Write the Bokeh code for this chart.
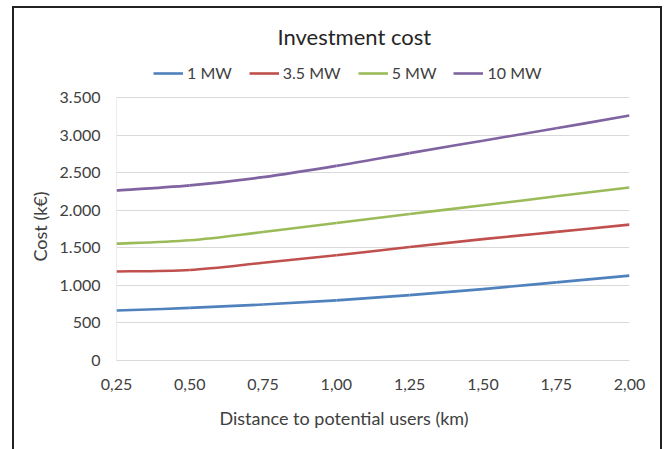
from bokeh.plotting import figure
from bokeh.models import Range1d, FixedTicker, Legend, LegendItem, Title
from bokeh.embed import file_html
from bokeh.resources import INLINE

# Investment cost (k€) by distance to potential users (km)
distance = [0.25, 0.50, 0.75, 1.00, 1.25, 1.50, 1.75, 2.00]
cost_1mw = [665, 700, 745, 800, 870, 950, 1040, 1130]
cost_3_5mw = [1185, 1205, 1300, 1400, 1510, 1615, 1712, 1808]
cost_5mw = [1555, 1600, 1710, 1830, 1950, 2065, 2185, 2303]
cost_10mw = [2262, 2330, 2440, 2590, 2760, 2925, 3090, 3260]

series_names = ["1 MW", "3.5 MW", "5 MW", "10 MW"]
series_values = [cost_1mw, cost_3_5mw, cost_5mw, cost_10mw]
series_colors = ["#4F81BD", "#C0504D", "#9BBB59", "#8064A2"]

x_ticks = distance
x_tick_labels = ["0,25", "0,50", "0,75", "1,00", "1,25", "1,50", "1,75", "2,00"]
y_ticks = [0, 500, 1000, 1500, 2000, 2500, 3000, 3500]
y_tick_labels = ["0", "500", "1.000", "1.500", "2.000", "2.500", "3.000", "3.500"]

FONT = "Lato"
TEXT = "#404040"
GRID = "#D9D9D9"

# The plotting area is 263 px tall for 0..3500; the frame reaches 40 px
# higher so the legend row can sit inside it, above the top gridline.
PLOT_H = 263
FRAME_H = 303
y_min, y_max = y_ticks[0], y_ticks[-1]
y_top = y_min + (y_max - y_min) * FRAME_H / PLOT_H

p = figure(
    frame_width=513, frame_height=FRAME_H,
    x_range=Range1d(distance[0], distance[-1]), y_range=Range1d(y_min, y_top),
    toolbar_location=None, output_backend="svg",
    min_border_left=102, min_border_right=31,
    min_border_top=49, min_border_bottom=89,
    title="Investment cost",
)
p.margin = (6, 0, 0, 12)
p.styles = {
    "border-left": "2px solid #222",
    "border-top": "2px solid #222",
    "border-right": "2px solid #222",
}
p.outline_line_color = None
p.background_fill_color = "white"
p.border_fill_color = "white"

p.title.text_font = FONT
p.title.text_font_size = "22px"
p.title.text_font_style = "normal"
p.title.text_color = "#262626"
p.title.align = "left"
p.title.offset = 161
p.title.standoff = 16


def smooth_segments(xs, ys):
    """Cubic Bezier segments through the points (Catmull-Rom tangents)."""
    n = len(xs)
    out = {k: [] for k in ("x0", "y0", "x1", "y1", "cx0", "cy0", "cx1", "cy1")}
    for i in range(n - 1):
        im1 = max(i - 1, 0)
        ip2 = min(i + 2, n - 1)
        out["x0"].append(xs[i]); out["y0"].append(ys[i])
        out["x1"].append(xs[i + 1]); out["y1"].append(ys[i + 1])
        out["cx0"].append(xs[i] + (xs[i + 1] - xs[im1]) / 6)
        out["cy0"].append(ys[i] + (ys[i + 1] - ys[im1]) / 6)
        out["cx1"].append(xs[i + 1] - (xs[ip2] - xs[i]) / 6)
        out["cy1"].append(ys[i + 1] - (ys[ip2] - ys[i]) / 6)
    return out


# value-axis line, only over the 0..3500 span
p.segment(x0=[distance[0]], y0=[y_min], x1=[distance[0]], y1=[y_max],
          line_color=GRID, line_width=1)

items = []
for name, vals, col in zip(series_names, series_values, series_colors):
    seg = smooth_segments(distance, vals)
    r = p.bezier(**seg, line_color=col, line_width=2.6)
    items.append(LegendItem(label=name, renderers=[r]))

legend = Legend(
    items=items, orientation="horizontal", location=(37, 278),
    border_line_color=None, background_fill_alpha=0,
    label_text_font=FONT, label_text_font_size="16px", label_text_color=TEXT,
    glyph_width=30, glyph_height=16, label_standoff=4, spacing=17,
    padding=0, margin=0,
)
p.add_layout(legend, "center")

# axes
p.xaxis.ticker = FixedTicker(ticks=x_ticks)
p.xaxis.major_label_overrides = dict(zip(x_ticks, x_tick_labels))
p.yaxis.ticker = FixedTicker(ticks=y_ticks)
p.yaxis.major_label_overrides = dict(zip(y_ticks, y_tick_labels))

for ax in (p.xaxis[0], p.yaxis[0]):
    ax.major_tick_line_color = None
    ax.minor_tick_line_color = None
    ax.major_label_text_font = FONT
    ax.major_label_text_font_size = "16px"
    ax.major_label_text_color = TEXT

p.xaxis.axis_line_color = GRID
p.yaxis.axis_line_color = None
p.yaxis.major_label_standoff = 10
p.xaxis.major_label_standoff = 12

# axis titles
x_title = Title(text="Distance to potential users (km)", align="left",
                offset=103, standoff=25, text_font=FONT, text_font_size="18px",
                text_font_style="normal", text_color=TEXT)
p.add_layout(x_title, "below")

y_title = Title(text="Cost (k€)", align="left", offset=99, standoff=12,
                text_font=FONT, text_font_size="18px",
                text_font_style="normal", text_color=TEXT)
p.add_layout(y_title, "left")

p.xgrid.grid_line_color = None
p.ygrid.grid_line_color = GRID
p.ygrid.grid_line_width = 1

open("out.html", "w").write(file_html(p, INLINE))
